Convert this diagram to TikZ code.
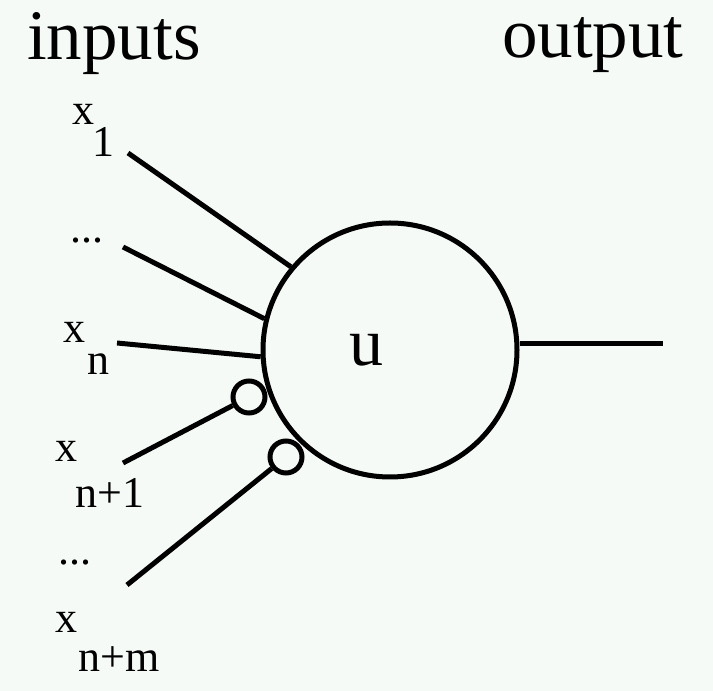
\documentclass[tikz,border=0pt]{standalone}
\usepackage{fontspec}
\setmainfont{Liberation Serif}
\definecolor{paper}{RGB}{245,250,246}

\begin{document}
\begin{tikzpicture}[
    x=1pt, y=1pt,
    head/.style={inner sep=0pt, anchor=base west, font=\fontsize{71}{80}\selectfont},
    lbl/.style={inner sep=0pt, anchor=base west, font=\fontsize{44}{50}\selectfont},
    unit/.style={draw, circle, line width=5pt, minimum size=254pt, inner sep=0pt},
    inhib/.style={draw, circle, line width=5pt, minimum size=32pt, inner sep=0pt},
    wire/.style={line width=5pt}
]
\fill[paper] (0,0) rectangle (713,691);
\useasboundingbox (0,0) rectangle (713,691);

% headings
\node[head] (inputs) at (27,631) {inputs};
\node[head] (output) at (502,633) {output};

% neuron
\node[unit] (u) at (390,341) {};
\node[inner sep=0pt, font=\fontsize{68}{80}\selectfont] (ulabel) at (366,341) {u};
\node[inhib] (inh1) at (249,294) {};
\node[inhib] (inh2) at (286,234) {};

% input labels
\node[lbl] (x1) at (72,566) {x};
\node[lbl] (x1sub) at (92,534) {1};
\node[lbl] (dots1) at (70,448) {...};
\node[lbl] (xn) at (63,348) {x};
\node[lbl] (xnsub) at (87,316) {n};
\node[lbl] (xna) at (55,229) {x};
\node[lbl] (xnasub) at (75,183) {n+1};
\node[lbl] (dots2) at (58,126) {...};
\node[lbl] (xnm) at (55,58) {x};
\node[lbl] (xnmsub) at (78,19) {n+m};

% free ends
\coordinate (in1) at (128,538);
\coordinate (in2) at (123,444);
\coordinate (in3) at (117,348);
\coordinate (in4) at (123,228);
\coordinate (in5) at (127,106);
\coordinate (out) at (663,347);

\draw[wire] (in1) -- (u.140);
\draw[wire] (in2) -- (u.166);
\draw[wire] (in3) -- (u.183);
\draw[wire] (in4) -- (inh1);
\draw[wire] (in5) -- (inh2);

\draw[wire] (u.east |- out) -- (out);
\end{tikzpicture}
\end{document}
